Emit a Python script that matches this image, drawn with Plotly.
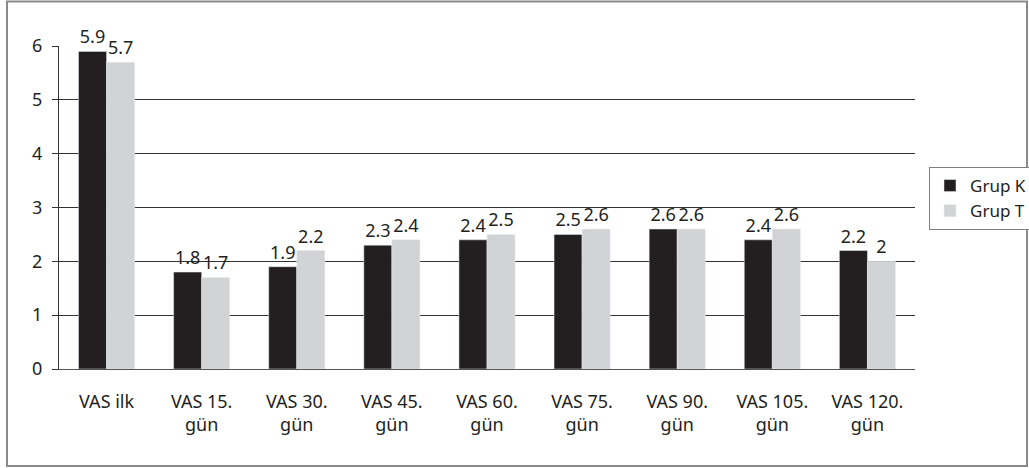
import plotly.graph_objects as go

# Pain (VAS) scores per time point for the two groups
categories = ["VAS ilk", "VAS 15.<br>gün", "VAS 30.<br>gün", "VAS 45.<br>gün", "VAS 60.<br>gün",
              "VAS 75.<br>gün", "VAS 90.<br>gün", "VAS 105.<br>gün", "VAS 120.<br>gün"]
grup_k = [5.9, 1.8, 1.9, 2.3, 2.4, 2.5, 2.6, 2.4, 2.2]
grup_t = [5.7, 1.7, 2.2, 2.4, 2.5, 2.6, 2.6, 2.6, 2.0]
y_ticks = [0, 1, 2, 3, 4, 5, 6]

FONT = "Noto Sans, Open Sans, sans-serif"
TXT = "#231f20"
FS = 18

fig = go.Figure()
fig.add_trace(go.Bar(
    name="Grup K", x=categories, y=grup_k, marker_color="#231f20",
    text=[f"{v:g}" for v in grup_k], textposition="outside", cliponaxis=False,
    textfont=dict(size=FS, color=TXT, family=FONT),
))
fig.add_trace(go.Bar(
    name="Grup T", x=categories, y=grup_t, marker_color="#d1d3d4",
    text=[f"{v:g}" for v in grup_t], textposition="outside", cliponaxis=False,
    textfont=dict(size=FS, color=TXT, family=FONT),
))

ml, mr, mt, mb = 59, 114, 46, 99
W, H = 1029, 468
pw, ph = W - ml - mr, H - mt - mb

def px_x(p):
    return (p - ml) / pw

def px_y(p):
    return (H - mb - p) / ph

fig.update_layout(
    width=W, height=H,
    margin=dict(l=ml, r=mr, t=mt, b=mb),
    paper_bgcolor="white", plot_bgcolor="white",
    barmode="group", bargap=0.41, bargroupgap=0,
    font=dict(family=FONT, size=FS, color=TXT),
    uniformtext=dict(mode=False),
    legend=dict(
        xref="container", yref="container",
        x=929 / W, y=(H - 167) / H, xanchor="left", yanchor="top",
        bordercolor="#808080", borderwidth=1, bgcolor="white",
        font=dict(size=17, family=FONT, color=TXT),
        itemwidth=30,
    ),
    xaxis=dict(
        showgrid=False, showline=True, linecolor="#555555", linewidth=1,
        ticks="", ticklabelstandoff=16,
        tickfont=dict(size=FS, family=FONT, color=TXT),
    ),
    yaxis=dict(
        range=[0, 6], tickvals=y_ticks, showgrid=True, gridcolor="#333333", gridwidth=1,
        showline=True, linecolor="#333333", linewidth=1,
        ticks="outside", ticklen=6, tickcolor="#333333",
        tickfont=dict(size=FS, family=FONT, color=TXT), ticklabelstandoff=6,
        zeroline=False,
    ),
    shapes=[dict(
        type="rect", xref="paper", yref="paper",
        x0=px_x(7), x1=px_x(1027), y0=px_y(466), y1=px_y(1.5),
        line=dict(color="#8a8a8a", width=2), layer="below",
    )],
)

fig.write_html("out.html")
